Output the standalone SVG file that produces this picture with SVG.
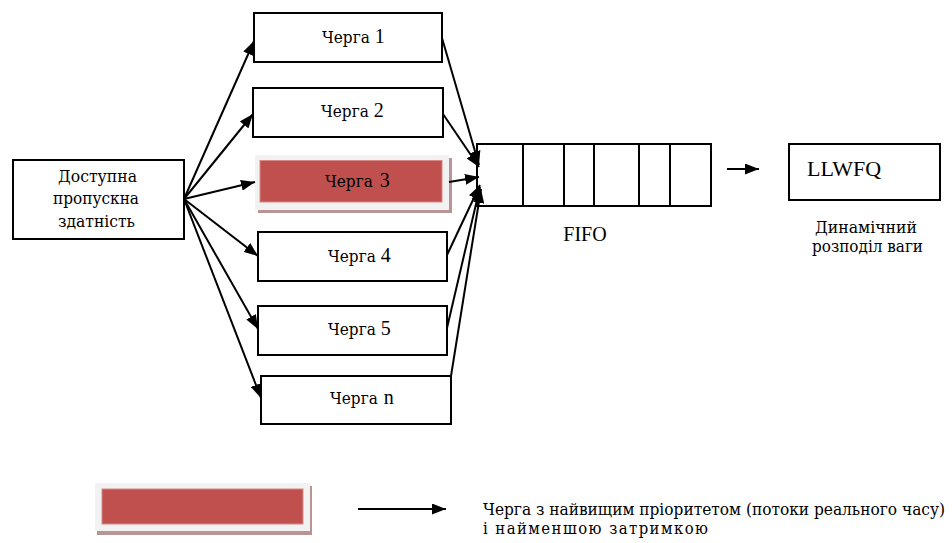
<svg xmlns="http://www.w3.org/2000/svg" width="952" height="543" viewBox="0 0 952 543">
<defs>
<marker id="ah" markerUnits="userSpaceOnUse" markerWidth="14" markerHeight="11" refX="14" refY="5.5" orient="auto">
<path d="M0,0 L14,5.5 L0,11 z" fill="#000"/>
</marker>
</defs>
<style>
.box{fill:#fff;stroke:#000;stroke-width:2}
.ln{stroke:#000;stroke-width:2;fill:none}
.t{font-family:"DejaVu Serif Condensed","DejaVu Serif","Liberation Serif",serif;font-stretch:condensed;fill:#000;font-size:17px}
.q{font-family:"DejaVu Serif Condensed","DejaVu Serif","Liberation Serif",serif;font-stretch:condensed;fill:#000;font-size:17px}
.l{font-family:"Liberation Serif","DejaVu Serif",serif;fill:#000}
.d{font-family:"Liberation Serif",serif;font-stretch:normal;font-size:20px}
.frame{fill:#f2f2f2}
.shadow{fill:#b99494}
.red{fill:#c0504d;stroke:#d68a88;stroke-width:1}
</style>
<rect width="952" height="543" fill="#fff"/>

<g id="source">
<rect class="box" x="13" y="160" width="171" height="79"/>
<text class="t" x="58" y="182" textLength="79" lengthAdjust="spacingAndGlyphs">Доступна</text>
<text class="t" x="53" y="204" textLength="86" lengthAdjust="spacingAndGlyphs">пропускна</text>
<text class="t" x="58" y="227" textLength="77" lengthAdjust="spacingAndGlyphs">здатність</text>
</g>

<g id="q1">
<rect class="box" x="254" y="13" width="188" height="49"/>
<text class="q" x="322" y="43">Черга <tspan class="d">1</tspan></text>
</g>
<g id="q2">
<rect class="box" x="253" y="88" width="190" height="49"/>
<text class="q" x="321" y="117">Черга <tspan class="d">2</tspan></text>
</g>
<g id="q3">
<rect class="shadow" x="258" y="158" width="194" height="55"/>
<rect class="frame" x="255" y="155" width="194" height="55"/>
<rect class="red" x="260" y="160.5" width="182" height="41.5"/>
<text class="q" x="325" y="187">Черга <tspan class="d" dx="2">3</tspan></text>
</g>
<g id="q4">
<rect class="box" x="258" y="232" width="189" height="49"/>
<text class="q" x="328" y="262">Черга <tspan class="d">4</tspan></text>
</g>
<g id="q5">
<rect class="box" x="258" y="306" width="189" height="49"/>
<text class="q" x="328" y="335">Черга <tspan class="d">5</tspan></text>
</g>
<g id="qn">
<rect class="box" x="261" y="376" width="190" height="48"/>
<text class="q" x="330" y="404">Черга <tspan class="d" dx="1">n</tspan></text>
</g>

<g id="fifo">
<rect class="box" x="477" y="144" width="234" height="62"/>
<path class="ln" d="M523,144V206M564,144V206M594,144V206M639,144V206M670,144V206"/>
<text class="l" x="585" y="241" text-anchor="middle" style="font-size:20px">FIFO</text>
</g>

<g id="llwfq">
<rect class="box" x="789" y="144" width="151" height="56"/>
<text class="l" x="807" y="176" style="font-size:22px">LLWFQ</text>
<text class="t" x="815" y="233" textLength="102" lengthAdjust="spacingAndGlyphs">Динамічний</text>
<text class="t" x="812" y="252" textLength="111" lengthAdjust="spacingAndGlyphs">розподіл ваги</text>
</g>

<g id="legend">
<rect class="shadow" x="97" y="486" width="215" height="49"/>
<rect class="frame" x="95" y="483" width="215" height="48"/>
<rect class="red" x="102" y="489" width="201" height="35"/>
<text class="t" x="483" y="515" textLength="462" lengthAdjust="spacingAndGlyphs" style="font-size:16px">Черга з найвищим пріоритетом (потоки реального часу)</text>
<text class="t" x="483" y="534" textLength="225" lengthAdjust="spacing" style="font-size:16.5px">і найменшою затримкою</text>
</g>

<g id="connectors">
<line class="ln" x1="184" y1="199" x2="254" y2="41" marker-end="url(#ah)"/>
<line class="ln" x1="184" y1="199" x2="253" y2="114" marker-end="url(#ah)"/>
<line class="ln" x1="184" y1="199" x2="255" y2="182" marker-end="url(#ah)"/>
<line class="ln" x1="184" y1="199" x2="258" y2="256" marker-end="url(#ah)"/>
<line class="ln" x1="184" y1="199" x2="258" y2="329" marker-end="url(#ah)"/>
<line class="ln" x1="184" y1="199" x2="261" y2="398" marker-end="url(#ah)"/>

<line class="ln" x1="442" y1="38" x2="479" y2="165" marker-end="url(#ah)"/>
<line class="ln" x1="443" y1="114" x2="479" y2="167" marker-end="url(#ah)"/>
<line class="ln" x1="449" y1="182" x2="479" y2="177" marker-end="url(#ah)"/>
<line class="ln" x1="447" y1="255" x2="480" y2="185" marker-end="url(#ah)"/>
<line class="ln" x1="447" y1="328" x2="480" y2="187" marker-end="url(#ah)"/>
<line class="ln" x1="451" y1="376" x2="481" y2="189" marker-end="url(#ah)"/>

<line class="ln" x1="727" y1="169" x2="759" y2="169" marker-end="url(#ah)"/>
<line class="ln" x1="358" y1="509" x2="446" y2="509" marker-end="url(#ah)"/>
</g>
</svg>
